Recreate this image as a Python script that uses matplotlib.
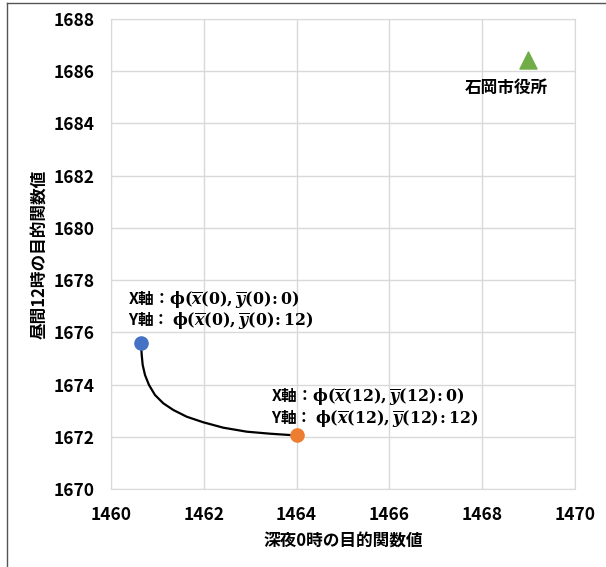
import matplotlib.pyplot as plt
from matplotlib.lines import Line2D

plt.rcParams['font.family'] = ['Noto Sans CJK JP', 'DejaVu Sans']
plt.rcParams['mathtext.fontset'] = 'custom'
plt.rcParams['mathtext.rm'] = 'DejaVu Serif:bold'
plt.rcParams['mathtext.it'] = 'DejaVu Serif:italic:bold'
plt.rcParams['mathtext.bf'] = 'DejaVu Serif:bold'

# data
start_pt = (1460.64, 1675.58)
end_pt = (1464.00, 1672.05)
city_pt = (1468.99, 1686.44)

curve_x = [1460.640, 1460.647, 1460.662, 1460.683, 1460.733, 1460.819,
           1460.948, 1461.127, 1461.343, 1461.631, 1461.989, 1462.420,
           1462.925, 1463.427, 1464.000]
curve_y = [1675.580, 1675.542, 1675.132, 1674.749, 1674.366, 1673.983,
           1673.600, 1673.282, 1673.026, 1672.769, 1672.555, 1672.348,
           1672.195, 1672.118, 1672.050]

label_start = [r"X軸：$\mathrm{\phi}(\overline{x}(0),\overline{y}(0)\!:0)$",
               r"Y軸： $\mathrm{\phi}(\overline{x}(0),\overline{y}(0)\!:12)$"]
label_end = [r"X軸：$\mathrm{\phi}(\overline{x}(12),\overline{y}(12)\!:0)$",
             r"Y軸： $\mathrm{\phi}(\overline{x}(12),\overline{y}(12)\!:12)$"]
city_name = "石岡市役所"

xticks = [1460, 1462, 1464, 1466, 1468, 1470]
yticks = list(range(1670, 1689, 2))

fig = plt.figure(figsize=(6.06, 5.67), dpi=100)
ax = fig.add_axes([111 / 606, 1 - 489 / 567, 464 / 606, 470 / 567])

ax.plot(curve_x, curve_y, color='black', lw=1.6, zorder=2,
        solid_joinstyle='round')
ax.scatter(*start_pt, s=90, color='#4472c4', zorder=3)
ax.scatter(*end_pt, s=90, color='#ed7d31', zorder=3)
ax.scatter(*city_pt, s=150, marker='^', color='#70ad47', zorder=3)

for txt, yy in zip(label_start, [1677.22, 1676.42]):
    ax.text(1460.37, yy, txt, fontsize=11.3, fontweight='bold',
            va='center', ha='left')
for txt, yy in zip(label_end, [1673.52, 1672.68]):
    ax.text(1463.45, yy, txt, fontsize=11.3, fontweight='bold',
            va='center', ha='left')
ax.text(city_pt[0] - 0.47, 1685.35, city_name, fontsize=12,
        fontweight='bold', ha='center', va='center')

ax.set_xlim(1460, 1470)
ax.set_ylim(1670, 1688)
ax.set_xticks(xticks)
ax.set_yticks(yticks)
ax.grid(True, color='#d9d9d9', lw=1)
ax.set_axisbelow(True)
for sp in ax.spines.values():
    sp.set_color('#d9d9d9')
ax.tick_params(length=0, labelsize=12.5, pad=12)
for lab in ax.get_xticklabels() + ax.get_yticklabels():
    lab.set_fontweight('bold')

ax.set_xlabel("深夜0時の目的関数値", fontsize=12, fontweight='bold', labelpad=6)
ax.set_ylabel("昼間12時の目的関数値", fontsize=12, fontweight='bold', labelpad=4)

fig.add_artist(Line2D([7 / 606, 7 / 606], [0, 1 - 3 / 567], color='#555555', lw=1))
fig.add_artist(Line2D([7 / 606, 1], [1 - 3 / 567, 1 - 3 / 567], color='#555555', lw=1))

fig.savefig('out.png', dpi=100)
